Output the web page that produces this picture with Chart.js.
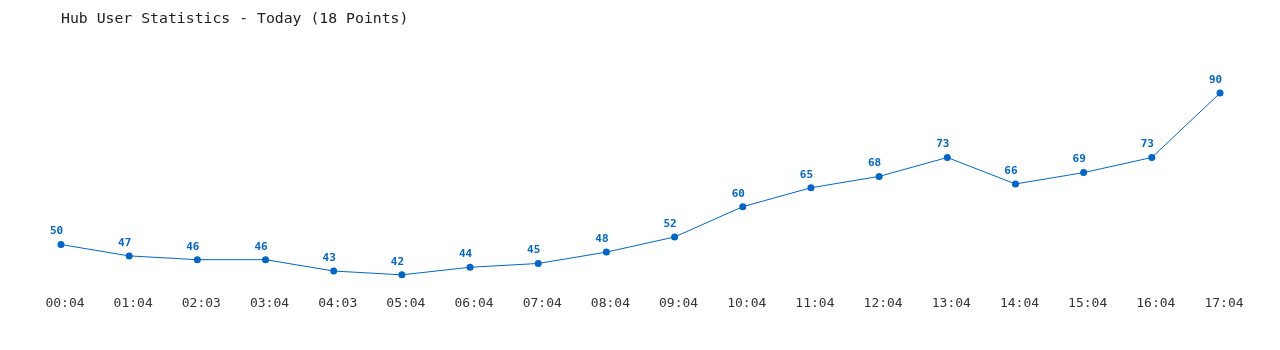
<!DOCTYPE html>
<html>
<head>
<meta charset="utf-8">
<script src="https://cdn.jsdelivr.net/npm/chart.js@4/dist/chart.umd.min.js"></script>
<style>
  html, body { margin: 0; padding: 0; background: #fff; }
  #wrap { width: 1280px; height: 350px; position: relative; }
</style>
</head>
<body>
<div id="wrap"><canvas id="myChart"></canvas></div>
<script>
var timeLabels = ['00:04', '01:04', '02:03', '03:04', '04:03', '05:04', '06:04', '07:04', '08:04',
  '09:04', '10:04', '11:04', '12:04', '13:04', '14:04', '15:04', '16:04', '17:04'];
var userCounts = [50, 47, 46, 46, 43, 42, 44, 45, 48, 52, 60, 65, 68, 73, 66, 69, 73, 90];
var chartTitle = 'Hub User Statistics - Today (18 Points)';

// draws the value above every point (no datalabels plugin offline)
var valueLabels = {
  id: 'valueLabels',
  afterDatasetsDraw: function(chart) {
    var ctx = chart.ctx;
    var meta = chart.getDatasetMeta(0);
    ctx.save();
    ctx.font = 'bold 11px "DejaVu Sans Mono", monospace';
    ctx.fillStyle = '#0066cc';
    ctx.textAlign = 'center';
    ctx.textBaseline = 'middle';
    meta.data.forEach(function(pt, i) {
      ctx.fillText(String(userCounts[i]), pt.x - 4.5, pt.y - 13);
    });
    ctx.restore();
  }
};

function BuildChart(labels, values, title) {
  var ctx = document.getElementById('myChart').getContext('2d');
  var myChart = new Chart(ctx, {
    type: 'line',
    data: {
      labels: labels,
      datasets: [{
        label: title,
        data: values,
        borderColor: '#0066cc',
        backgroundColor: '#0066cc',
        borderWidth: 1,
        pointRadius: 3.5,
        pointBorderWidth: 0,
        tension: 0,
        fill: false
      }]
    },
    options: {
      responsive: true,
      maintainAspectRatio: false,
      animation: false,
      layout: { padding: { left: 61, right: 60, top: 0, bottom: 26 } },
      plugins: {
        legend: { display: false },
        tooltip: { enabled: false },
        title: {
          display: true,
          text: title,
          align: 'start',
          color: '#222',
          font: { family: '"DejaVu Sans Mono", monospace', size: 14.8, weight: 'normal' },
          padding: { top: 10, bottom: 27.5 }
        }
      },
      scales: {
        x: {
          offset: false,
          grid: { display: false, drawTicks: false },
          border: { display: false },
          ticks: {
            color: '#333',
            padding: 13,
            labelOffset: 4,
            maxRotation: 0,
            autoSkip: false,
            font: { family: '"DejaVu Sans Mono", monospace', size: 13 }
          }
        },
        y: {
          display: false,
          min: 40,
          max: 100
        }
      }
    },
    plugins: [valueLabels]
  });
  return myChart;
}

BuildChart(timeLabels, userCounts, chartTitle);
</script>
</body>
</html>
